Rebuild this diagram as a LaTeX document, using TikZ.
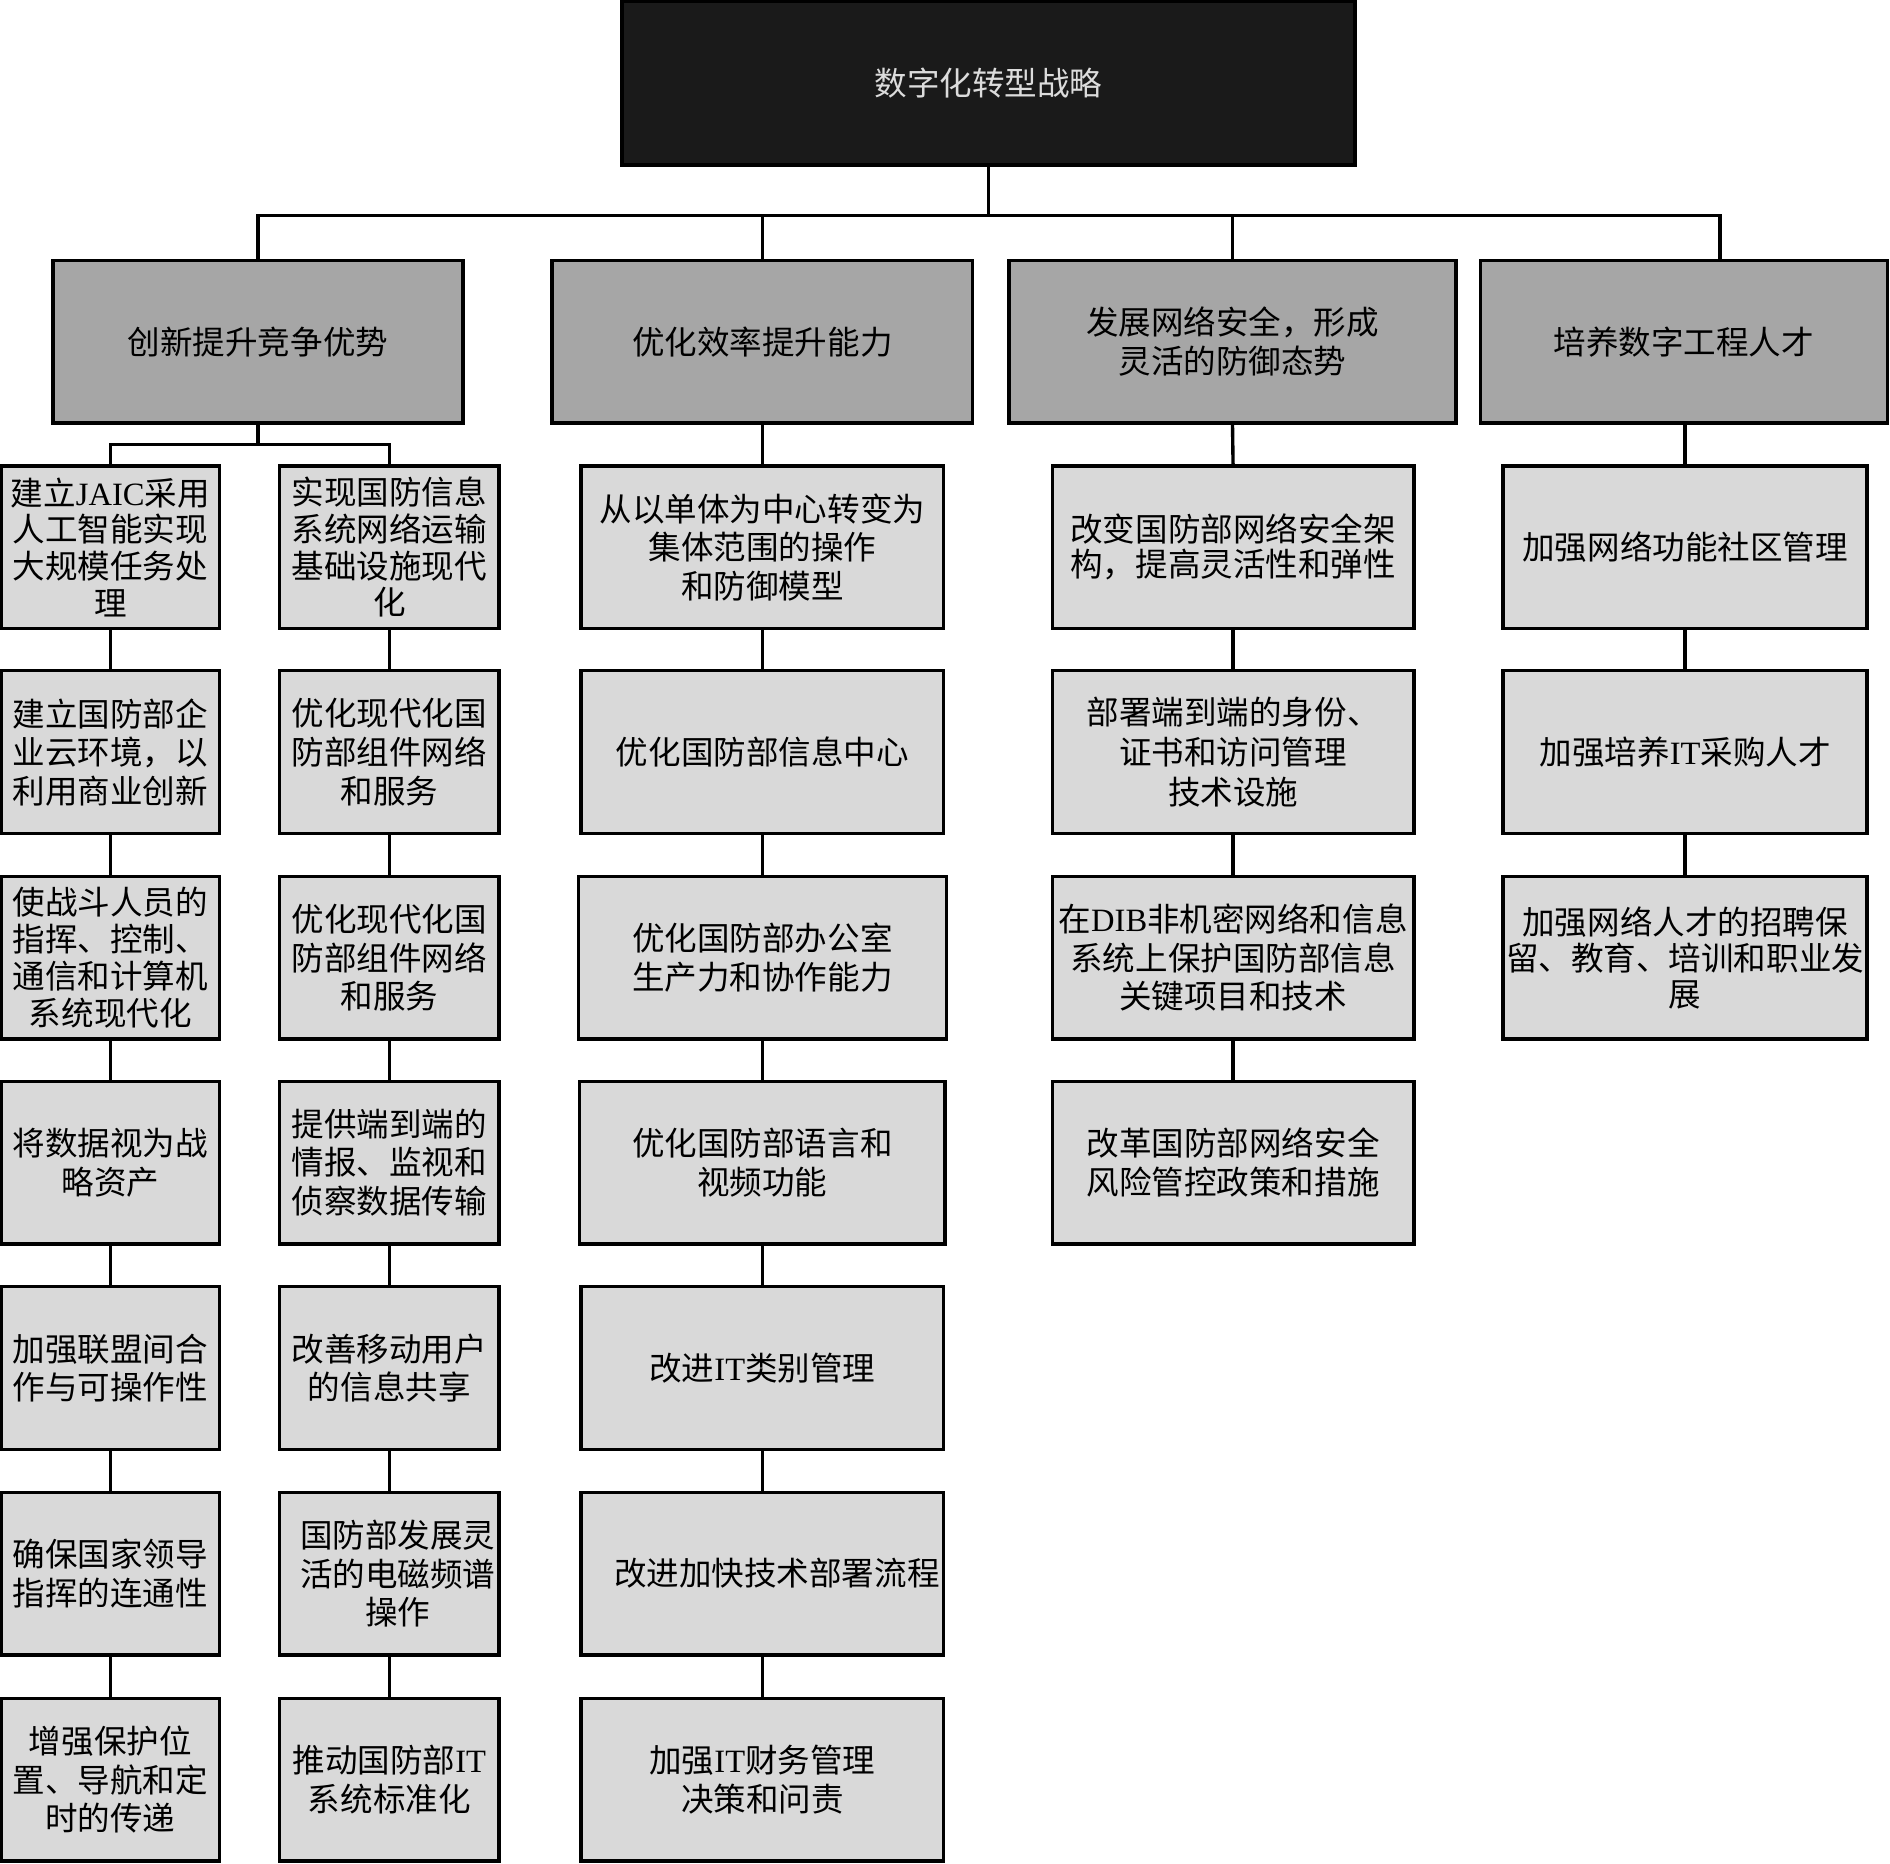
\documentclass[tikz,border=0pt]{standalone}
\usepackage{fontspec}
\setmainfont{Liberation Serif}
\newfontfamily\cjk{Noto Sans CJK SC}
\newcommand\latn[1]{{\rmfamily #1}}
\definecolor{topfill}{HTML}{1A1A1A}
\definecolor{topText}{HTML}{DCDCDC}
\definecolor{lvAfill}{HTML}{A6A6A6}
\definecolor{lvBfill}{HTML}{D9D9D9}
\tikzset{
  box/.style={draw=black, line width=2.8pt, rectangle, inner sep=0pt, outer sep=0pt,
    align=center, font=\cjk\fontsize{27pt}{32pt}\selectfont},
  topbox/.style={box, fill=topfill, text=topText, minimum width=608pt, minimum height=136pt},
  lvone/.style={box, fill=lvAfill, minimum height=135pt},
  lvtwo/.style={box, fill=lvBfill, minimum height=135pt},
  tight/.style={font=\cjk\fontsize{27pt}{30.5pt}\selectfont},
  colA/.style={lvtwo, minimum width=181pt},
  colB/.style={lvtwo, minimum width=182pt},
  colC/.style={lvtwo, minimum width=301pt},
  colD/.style={lvtwo, minimum width=300pt},
  colE/.style={lvtwo, minimum width=302pt},
  conn/.style={draw=black, line width=2.8pt}
}
\begin{document}
\begin{tikzpicture}[x=1pt,y=1pt]
\useasboundingbox (0,0) rectangle (1568,-1546);
\fill[white] (0,0) rectangle (1568,-1546);

% top
\node[topbox] (top) at (820,-69) {数字化转型战略};

% level one
\node[lvone, minimum width=340pt] (l1a) at (214,-283.5) {创新提升竞争优势};
\node[lvone, minimum width=349pt] (l1b) at (632.5,-283.5) {优化效率提升能力};
\node[lvone, minimum width=371pt] (l1c) at (1022.5,-283.5) {发展网络安全，形成\\灵活的防御态势};
\node[lvone, minimum width=338pt] (l1d) at (1397,-283.5) {培养数字工程人才};

% column A
\node[colA, tight] (a1) at (91.5,-454) {建立\latn{JAIC}采用\\人工智能实现\\大规模任务处\\理};
\node[colA] (a2) at (91.5,-624) {建立国防部企\\业云环境，以\\利用商业创新};
\node[colA, tight] (a3) at (91.5,-794.5) {使战斗人员的\\指挥、控制、\\通信和计算机\\系统现代化};
\node[colA] (a4) at (91.5,-964.5) {将数据视为战\\略资产};
\node[colA] (a5) at (91.5,-1135) {加强联盟间合\\作与可操作性};
\node[colA] (a6) at (91.5,-1305.5) {确保国家领导\\指挥的连通性};
\node[colA] (a7) at (91.5,-1476.5) {增强保护位\\置、导航和定\\时的传递};

% column B
\node[colB, tight] (b1) at (323,-454) {实现国防信息\\系统网络运输\\基础设施现代\\化};
\node[colB] (b2) at (323,-624) {优化现代化国\\防部组件网络\\和服务};
\node[colB] (b3) at (323,-794.5) {优化现代化国\\防部组件网络\\和服务};
\node[colB] (b4) at (323,-964.5) {提供端到端的\\情报、监视和\\侦察数据传输};
\node[colB] (b5) at (323,-1135) {改善移动用户\\的信息共享};
\node[colB] (b6) at (323,-1305.5) {\hspace*{14pt}国防部发展灵\\\hspace*{14pt}活的电磁频谱\\\hspace*{14pt}操作};
\node[colB] (b7) at (323,-1476.5) {推动国防部\latn{IT}\\系统标准化};

% column C
\node[colC] (c1) at (632.5,-454) {从以单体为中心转变为\\集体范围的操作\\和防御模型};
\node[colC] (c2) at (632.5,-624) {优化国防部信息中心};
\node[colC, minimum width=305pt] (c3) at (632.5,-794.5) {优化国防部办公室\\生产力和协作能力};
\node[colC, minimum width=303pt] (c4) at (632.5,-964.5) {优化国防部语言和\\视频功能};
\node[colC] (c5) at (632.5,-1135) {改进\latn{IT}类别管理};
\node[colC] (c6) at (632.5,-1305.5) {\hspace*{24pt}改进加快技术部署流程};
\node[colC] (c7) at (632.5,-1476.5) {加强\latn{IT}财务管理\\决策和问责};

% column D
\node[colD, font=\cjk\fontsize{27pt}{29pt}\selectfont] (d1) at (1023,-454) {改变国防部网络安全架\\构，提高灵活性和弹性};
\node[colD, font=\cjk\fontsize{27pt}{33pt}\selectfont] (d2) at (1023,-624) {部署端到端的身份、\\证书和访问管理\\技术设施};
\node[colD] (d3) at (1023,-794.5) {在\latn{DIB}非机密网络和信息\\系统上保护国防部信息\\关键项目和技术};
\node[colD] (d4) at (1023,-964.5) {改革国防部网络安全\\风险管控政策和措施};

% column E
\node[colE] (e1) at (1398,-454) {加强网络功能社区管理};
\node[colE] (e2) at (1398,-624) {加强培养\latn{IT}采购人才};
\node[colE, font=\cjk\fontsize{27pt}{30pt}\selectfont] (e3) at (1398,-794.5) {加强网络人才的招聘保\\留、教育、培训和职业发\\展};

% connectors
\coordinate (bus) at (0,-179);
\coordinate (subbus) at (0,-369);
\coordinate (dfour) at ([xshift=30pt]l1d.north);
\draw[conn] (top.south) -- (top.south |- bus);
\draw[conn] (l1a.north) -- (l1a.north |- bus) -- (dfour |- bus) -- (dfour);
\draw[conn] (l1b.north) -- (l1b.north |- bus);
\draw[conn] (l1c.north) -- (l1c.north |- bus);

\draw[conn] (l1a.south) -- (l1a.south |- subbus);
\draw[conn] (a1.north) -- (a1.north |- subbus) -- (b1.north |- subbus) -- (b1.north);
\draw[conn] (l1b.south) -- (c1.north);
\draw[conn] (l1c.south) -- (d1.north);
\draw[conn] (e1.north |- l1d.south) -- (e1.north);

\foreach \c/\n in {a/7,b/7,c/7,d/4,e/3}{
  \foreach \i [remember=\i as \prev (initially 1)] in {2,...,\n}{
    \draw[conn] (\c\prev.south) -- (\c\i.north);
  }
}
\end{tikzpicture}
\end{document}
